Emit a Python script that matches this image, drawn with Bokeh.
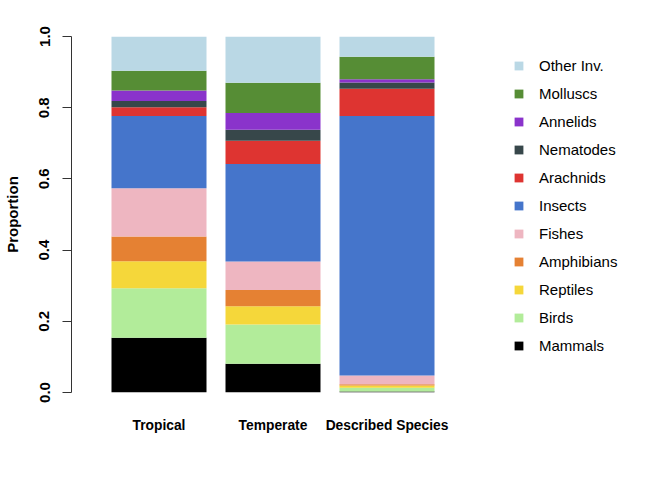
from bokeh.plotting import figure
from bokeh.models import ColumnDataSource, Legend, LegendItem, FixedTicker, NumeralTickFormatter, Range1d
from bokeh.embed import file_html
from bokeh.resources import INLINE

# ---- data ----
categories = ["Tropical", "Temperate", "Described Species"]
taxa = ["Mammals", "Birds", "Reptiles", "Amphibians", "Fishes", "Insects",
        "Arachnids", "Nematodes", "Annelids", "Molluscs", "Other Inv."]
mammals    = [0.154, 0.081, 0.003]
birds      = [0.139, 0.110, 0.010]
reptiles   = [0.076, 0.051, 0.007]
amphibians = [0.069, 0.046, 0.003]
fishes     = [0.136, 0.080, 0.025]
insects    = [0.203, 0.274, 0.729]
arachnids  = [0.024, 0.065, 0.076]
nematodes  = [0.018, 0.031, 0.018]
annelids   = [0.029, 0.047, 0.009]
molluscs   = [0.056, 0.085, 0.063]
other_inv  = [0.096, 0.130, 0.057]
y_ticks = [0.0, 0.2, 0.4, 0.6, 0.8, 1.0]

colors = ["#000000", "#B2EC9A", "#F5D73A", "#E58133", "#EEB6C1", "#4575CB",
          "#DE3431", "#37474A", "#8A33CB", "#568D35", "#BAD8E5"]

series = [mammals, birds, reptiles, amphibians, fishes, insects,
          arachnids, nematodes, annelids, molluscs, other_inv]

# R barplot layout: width 1, space 0.2
bar_w = 1.0
space = 0.2
xs = [space + i * (bar_w + space) + bar_w / 2 for i in range(len(categories))]

data = {"x": xs}
for name, vals in zip(taxa, series):
    data[name] = vals
source = ColumnDataSource(data)

W, H = 664, 479
left, top, bottom = 71, 36, 87
px_per_unit = 95.0
x0 = space - 40 / px_per_unit
x1 = x0 + (W - left) / px_per_unit

p = figure(width=W, height=H, output_backend="svg", toolbar_location=None,
           x_range=Range1d(x0, x1), y_range=Range1d(0, 1),
           min_border_left=left, min_border_top=top, min_border_bottom=bottom,
           min_border_right=0)
p.outline_line_color = None
p.grid.visible = False
p.background_fill_color = "white"
p.border_fill_color = "white"

renderers = p.vbar_stack(taxa, x="x", width=bar_w, color=colors, line_color=None,
                         source=source)

FONT = "Liberation Sans"

# y axis
ya = p.yaxis[0]
ya.ticker = FixedTicker(ticks=y_ticks)
ya.formatter = NumeralTickFormatter(format="0.0")
ya.minor_tick_line_color = None
ya.major_tick_out = 9
ya.major_tick_in = 0
ya.axis_line_color = "#333333"
ya.major_tick_line_color = "#333333"
ya.major_label_orientation = "vertical"
ya.major_label_text_font = FONT
ya.major_label_text_font_style = "bold"
ya.major_label_text_font_size = "15px"
ya.major_label_text_color = "black"
ya.major_label_standoff = 13
ya.axis_label = "Proportion"
ya.axis_label_text_font = FONT
ya.axis_label_text_font_style = "bold"
ya.axis_label_text_font_size = "15px"
ya.axis_label_text_color = "black"
ya.axis_label_standoff = 16

# x axis: category names only
xa = p.xaxis[0]
xa.ticker = FixedTicker(ticks=xs)
xa.major_label_overrides = {x: c for x, c in zip(xs, categories)}
xa.axis_line_color = None
xa.major_tick_line_color = None
xa.minor_tick_line_color = None
xa.major_label_text_font = FONT
xa.major_label_text_font_style = "bold"
xa.major_label_text_font_size = "13.8px"
xa.major_label_text_color = "black"
xa.major_label_standoff = 19

# legend (top: Other Inv., bottom: Mammals)
items = [LegendItem(label=name, renderers=[r]) for name, r in zip(taxa, renderers)]
items.reverse()
legend = Legend(items=items, location=(442, 33))
legend.padding = 0
legend.margin = 0
legend.spacing = 0
legend.glyph_width = 11
legend.glyph_height = 11
legend.label_height = 28
legend.label_standoff = 15
legend.label_text_font = FONT
legend.label_text_font_size = "15px"
legend.label_text_color = "black"
legend.border_line_color = None
legend.background_fill_alpha = 0
p.add_layout(legend)

open("out.html", "w").write(file_html(p, INLINE))
